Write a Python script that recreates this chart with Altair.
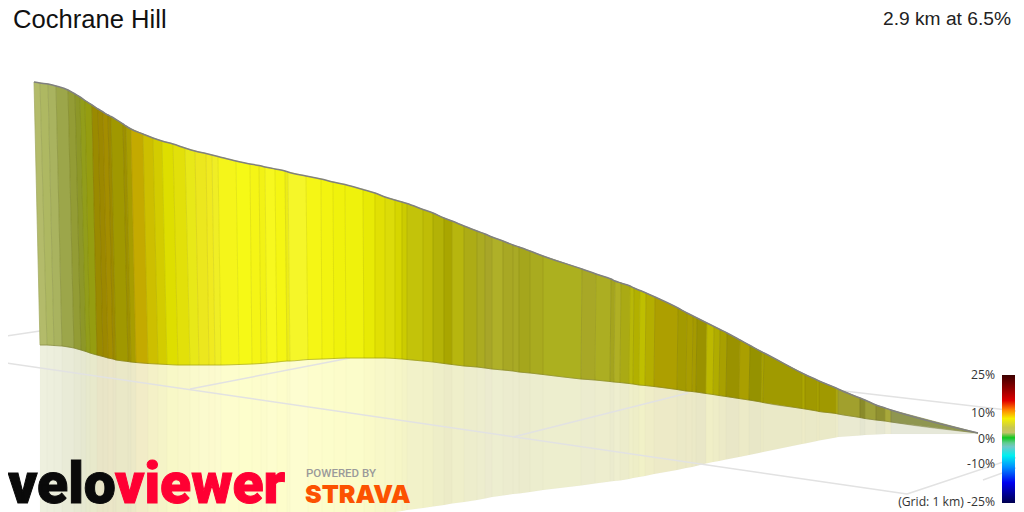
import altair as alt
import pandas as pd

# screen-read geometry of the projected profile wall, one entry per strip edge
edge_top_x = [34,40,48,56,68,75,80,85,92,98,103,108,111,123,126,131,143,153,162,173,185,195,206,212,218,236,250,259,265,275,285,288,306,321,333,345,363,375,385,395,402,407,423,433,444,452,464,477,485,492,503,513,519,530,543,582,596,611,615,621,630,634,640,646,655,678,687,693,697,707,714,720,727,740,750,762,764,802,805,817,819,836,838,860,865,876,885,891,978]
edge_top_y = [82,83,84,86,90,94,97,100.5,105,109,112,115,116.5,124,126,129,134,138,141,144,148,151,153.5,155,156.5,161,164,165.5,167,169,171,172,176,179,182,184.5,189.5,193,197,200,202,203.5,209.5,213,218,221,226,231,234,237,241,245,247,251,256,269,274,279,281,283,286,288,290.5,293,297,308,313,316,318,323,326.5,329.5,333,340,345.5,352,353,373,374.5,380,381,388,389,398,400,405,408,410,433]
edge_bot_x = [40,47,54,62,74,81,86,90,97,103,108,113,116,128,131,136,148,158,167,178,190,199,209,215,221,239,252,261,267,277,287,290,308,322,334,346,364,375,385,395,402,407,423,433,444,452,464,477,485,492,503,513,519,530,543,581,595,610,614,620,629,633,639,645,654,677,686,692,696,706,713,719,726,739,749,761,763,802,805,817,819,836,838,860,865,876,885,891,978]
edge_bot_y = [345,345,345.5,346,348,350,351.5,353,355,356.5,358,359,360,361.5,362,362.5,363.5,364,364.5,365,365,365,365,365,365,364.5,364,363.5,363,362,361,361,359.5,359,358.5,358,358,358,358,358.5,359,359.5,361,362,363.5,364.5,366,367,368,369,370,371,372,373,374.5,379,380,381.5,382,382.5,383.5,384,385,385.5,386.5,389.5,391,391.5,392,393.5,394.5,395.5,396.5,398.5,400,402,402.5,408.5,409,411,411.5,413.5,414,417.5,418.5,420,421,422,433]
edge_low_y = [600,600,600,600,598,596,595,594,592,590,588,586,585,578,577,575,571,568,565,562,559,556,553,552,550,545,541,538,537,534,532,531,528,525,523,520,516,514,513,512,511,510,508,506.5,505,503.5,502,500,498.5,497,495.5,494,493.5,492,490,485.5,483.5,481.5,481,480.5,479,478,477,476,474,470,468,467,466,463.5,462,461,459.5,457,455,452.5,452,444,443.5,441,440.5,437.5,437,435.5,435,434.5,434,434,434]
strip_colors = ["#b3bb6a","#aeb862","#a9b35f","#9ca64a","#939c35","#8d9728","#929d1a","#959d10","#9a8a00","#9c8800","#a38d00","#9c8a00","#a09800","#9d9000","#a89d00","#c4aa00","#cdbf00","#d3cc00","#dede00","#e2e00a","#e8e818","#ece71e","#f0ea20","#f0ee25","#f5f51a","#f6f916","#f5f516","#f2f215","#f7f81e","#f5f613","#ecec18","#f5f629","#f5f615","#f3f410","#f0f20c","#eff20c","#e8ea05","#e1e004","#dcdc08","#d6d600","#cccc00","#c3c30a","#bfbd06","#b3b206","#a9a600","#b7b60e","#adac15","#abab21","#a8a628","#afb028","#a8a824","#a9aa25","#a5a61c","#a9ab1f","#acb01f","#a8a826","#acae22","#a4a41e","#b0b024","#aaaa14","#b8b808","#b2b000","#bfbf00","#b4ae00","#ad9f00","#a39a00","#a89d00","#a59a00","#9a9200","#bcb800","#b0ac00","#a8a000","#9a9200","#aa9f00","#959200","#a9a400","#a09a00","#aca600","#a09900","#aca600","#a09900","#b2ae10","#a1a02d","#8a8b2a","#9ea038","#8f9030","#a8a83a","#8f9650"]

# ground grid segments: (x0, y0, x1, y1)
grid_segments = [
    (0, 337, 40, 331), (0, 362, 907, 494), (907, 494, 1024, 455), (190, 389, 350, 358),
    (513, 437, 688, 393), (844, 391, 1024, 412), (983, 480, 1024, 465),
]

scale_labels = ["25%", "10%", "0%", "-10%", "(Grid: 1 km) -25%"]
scale_label_y = [379, 417, 443, 468, 506]

bar_stops = [(0, "#3c0000"), (.1, "#8b0000"), (.2, "#e00000"), (.27, "#ff8000"), (.34, "#f5f000"),
             (.41, "#c9c94d"), (.45, "#c4c46a"), (.49, "#10c820"), (.53, "#60cc90"), (.56, "#70c8c8"),
             (.63, "#00f0f0"), (.72, "#0090ff"), (.84, "#0000f0"), (.95, "#000080"), (1, "#000050")]

wall, refl = [], []
for i, c in enumerate(strip_colors):
    k = f"{i:03d}"
    wall += [
        dict(s=k, v=0, x=edge_top_x[i], y=edge_top_y[i], c=c),
        dict(s=k, v=1, x=edge_top_x[i+1], y=edge_top_y[i+1], c=c),
        dict(s=k, v=2, x=edge_bot_x[i+1], y=edge_bot_y[i+1], c=c),
        dict(s=k, v=3, x=edge_bot_x[i], y=edge_bot_y[i], c=c),
    ]
    refl += [
        dict(s=k, v=0, x=edge_bot_x[i], y=edge_bot_y[i], c=c),
        dict(s=k, v=1, x=edge_bot_x[i+1], y=edge_bot_y[i+1], c=c),
        dict(s=k, v=2, x=edge_bot_x[i+1], y=edge_low_y[i+1], c=c),
        dict(s=k, v=3, x=edge_bot_x[i], y=edge_low_y[i], c=c),
    ]
wall = pd.DataFrame(wall)
refl = pd.DataFrame(refl)
top = pd.DataFrame({"x": edge_top_x, "y": edge_top_y})
bottom = pd.DataFrame({"x": edge_bot_x, "y": edge_bot_y})
edges = pd.DataFrame(
    [dict(s=i, v=0, x=edge_top_x[i], y=edge_top_y[i]) for i in range(len(edge_top_x) - 1)]
    + [dict(s=i, v=1, x=edge_bot_x[i], y=edge_bot_y[i]) for i in range(len(edge_top_x) - 1)])
grid = pd.DataFrame([dict(s=j, x=p[0 + 2 * e], y=p[1 + 2 * e], v=e)
                     for j, p in enumerate(grid_segments) for e in (0, 1)])

X = alt.X("x:Q", axis=None, scale=alt.Scale(domain=[8, 1016], nice=False, zero=False))
Y = alt.Y("y:Q", axis=None, scale=alt.Scale(domain=[8, 512], nice=False, zero=False, reverse=True))

grid_layer = alt.Chart(grid).mark_line(color="#e2e2e2", strokeWidth=1.5, clip=True).encode(
    x=X, y=Y, detail="s:N", order="v:O")

refl_layer = alt.Chart(refl).mark_line(interpolate="linear-closed", strokeWidth=1, stroke="#000000",
                                       strokeOpacity=0.012, fillOpacity=0.22, clip=True).encode(
    x=X, y=Y, detail="s:N", order="v:O", fill=alt.Fill("c:N", scale=None))

wall_layer = alt.Chart(wall).mark_line(interpolate="linear-closed", strokeWidth=0.7, clip=True).encode(
    x=X, y=Y, detail="s:N", order="v:O", fill=alt.Fill("c:N", scale=None), stroke=alt.Stroke("c:N", scale=None))

edge_layer = alt.Chart(edges).mark_line(color="#000000", strokeWidth=1, strokeOpacity=0.07, clip=True).encode(
    x=X, y=Y, detail="s:N", order="v:O")

top_layer = alt.Chart(top).mark_line(color="#808080", strokeWidth=1.5, interpolate="monotone", clip=True).encode(x=X, y=Y)
bottom_layer = alt.Chart(bottom).mark_line(color="#6e6e30", strokeWidth=0.8, strokeOpacity=0.5,
                                           interpolate="monotone", clip=True).encode(x=X, y=Y)

bar = alt.Chart(pd.DataFrame({"x": [1002], "x2": [1015], "y": [375], "y2": [503]})).mark_rect(
    color=alt.Gradient(gradient="linear", x1=0, y1=0, x2=0, y2=1,
                       stops=[alt.GradientStop(offset=o, color=c) for o, c in bar_stops])
).encode(x=X, x2="x2:Q", y=Y, y2="y2:Q")

scale_text = alt.Chart(pd.DataFrame({"t": scale_labels, "x": [995] * 5, "y": scale_label_y})).mark_text(
    align="right", baseline="alphabetic", font="Open Sans", fontSize=12.2, color="#333333"
).encode(x=X, y=Y, text="t:N")

title = alt.Chart(pd.DataFrame({"t": ["Cochrane Hill"], "x": [13], "y": [28]})).mark_text(
    align="left", baseline="alphabetic", font="Liberation Sans", fontSize=25.6, color="#111111"
).encode(x=X, y=Y, text="t:N")

summary = alt.Chart(pd.DataFrame({"t": ["2.9 km at 6.5%"], "x": [1011], "y": [25]})).mark_text(
    align="right", baseline="alphabetic", font="Liberation Sans", fontSize=19.2, color="#222222"
).encode(x=X, y=Y, text="t:N")

velo = alt.Chart(pd.DataFrame({"t": ["velo"], "x": [8], "y": [503]})).mark_text(
    align="left", baseline="alphabetic", font="Roboto", fontWeight=900, fontSize=57,
    color="#0a0a0a", stroke="#0a0a0a", strokeWidth=1
).encode(x=X, y=Y, text="t:N")

viewer = alt.Chart(pd.DataFrame({"t": ["viewer"], "x": [115], "y": [503]})).mark_text(
    align="left", baseline="alphabetic", font="Roboto", fontWeight=900, fontSize=57,
    color="#ff0033", stroke="#ff0033", strokeWidth=1
).encode(x=X, y=Y, text="t:N")

powered = alt.Chart(pd.DataFrame({"t": ["POWERED BY"], "x": [306], "y": [477]})).mark_text(
    align="left", baseline="alphabetic", font="Roboto", fontWeight=500, fontSize=11.5, color="#9a9a9a"
).encode(x=X, y=Y, text="t:N")

strava = alt.Chart(pd.DataFrame({"t": ["STRAVA"], "x": [305], "y": [503]})).mark_text(
    align="left", baseline="alphabetic", font="Inter", fontWeight=900, fontSize=25, color="#fc5200"
).encode(x=X, y=Y, text="t:N")

chart = alt.layer(refl_layer, grid_layer, wall_layer, edge_layer, bottom_layer, top_layer, bar, scale_text,
                  title, summary, velo, viewer, powered, strava).properties(
    width=1008, height=504, padding=0, autosize=alt.AutoSizeParams(type="none")
).configure_view(stroke=None)

chart.save("out.html", embed_options={"renderer": "svg", "actions": False})
